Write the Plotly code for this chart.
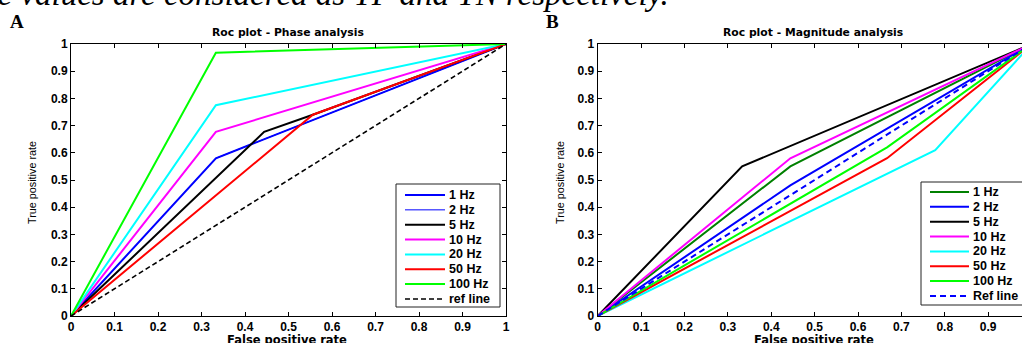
import plotly.graph_objects as go

W, H = 1022, 343

# ---------------- data ----------------
labels_phase = ["1 Hz", "2 Hz", "5 Hz", "10 Hz", "20 Hz", "50 Hz", "100 Hz", "ref line"]
fpr_phase = [
    [0, 0.333, 1],
    [0, 0.333, 1],
    [0, 0.444, 0.556, 1],
    [0, 0.333, 1],
    [0, 0.333, 1],
    [0, 0.556, 1],
    [0, 0.333, 1],
    [0, 1],
]
tpr_phase = [
    [0, 0.58, 1],
    [0, 0.58, 1],
    [0, 0.677, 0.74, 1],
    [0, 0.677, 1],
    [0, 0.775, 1],
    [0, 0.74, 1],
    [0, 0.968, 1],
    [0, 1],
]

labels_mag = ["1 Hz", "2 Hz", "5 Hz", "10 Hz", "20 Hz", "50 Hz", "100 Hz", "Ref line"]
fpr_mag = [
    [0, 0.444, 1],
    [0, 0.444, 1],
    [0, 0.333, 1],
    [0, 0.444, 1],
    [0, 0.778, 1],
    [0, 0.667, 1],
    [0, 0.667, 1],
    [0, 1],
]
tpr_mag = [
    [0, 0.55, 1],
    [0, 0.48, 1],
    [0, 0.55, 1],
    [0, 0.58, 1],
    [0, 0.61, 1],
    [0, 0.58, 1],
    [0, 0.62, 1],
    [0, 1],
]

tick_vals = [0, 0.1, 0.2, 0.3, 0.4, 0.5, 0.6, 0.7, 0.8, 0.9, 1]
tick_text = ["0", "0.1", "0.2", "0.3", "0.4", "0.5", "0.6", "0.7", "0.8", "0.9", "1"]

title_a = "Roc plot - Phase analysis"
title_b = "Roc plot - Magnitude analysis"
x_title = "False positive rate"
y_title = "True positive rate"
top_text = "he values are considered as TP and TN respectively."

# ---------------- styles ----------------
phase_colors = ["#0000FF", "#0000FF", "#000000", "#FF00FF", "#00FFFF", "#FF0000", "#00FF00", "#000000"]
phase_widths = [2, 1, 2, 2, 2, 2, 2, 1.6]
phase_dash = ["solid"] * 7 + ["5px,3px"]
mag_colors = ["#008000", "#0000FF", "#000000", "#FF00FF", "#00FFFF", "#FF0000", "#00FF00", "#0000FF"]
mag_widths = [2, 2, 2, 2, 2, 2, 2, 2]
mag_dash = ["solid"] * 7 + ["6px,4px"]

SANS = "Liberation Sans, Arial, sans-serif"
WIDE = "DejaVu Sans, Verdana, sans-serif"
SERIF = "Liberation Serif, Times New Roman, serif"


def px(x):
    return x / W


def py(y):
    return 1 - y / H


fig = go.Figure()

for xs, ys, name, c, w, d in zip(fpr_phase, tpr_phase, labels_phase, phase_colors, phase_widths, phase_dash):
    fig.add_trace(go.Scatter(x=xs, y=ys, mode="lines", name=name, xaxis="x", yaxis="y",
                             line=dict(color=c, width=w, dash=d), showlegend=False))
for xs, ys, name, c, w, d in zip(fpr_mag, tpr_mag, labels_mag, mag_colors, mag_widths, mag_dash):
    fig.add_trace(go.Scatter(x=xs, y=ys, mode="lines", name=name, xaxis="x2", yaxis="y2",
                             line=dict(color=c, width=w, dash=d), showlegend=False))

tickfont = dict(family=SANS, size=12, color="black", weight="bold")
common = dict(tickvals=tick_vals, ticktext=tick_text, ticks="inside", ticklen=4, tickcolor="black",
              showline=True, linecolor="black", linewidth=1, showgrid=False, zeroline=False,
              tickfont=tickfont, automargin=False)

fig.update_layout(
    template="none",
    width=W, height=H,
    margin=dict(l=0, r=0, t=0, b=0, pad=0),
    paper_bgcolor="white", plot_bgcolor="white",
    showlegend=False,
    xaxis=dict(domain=[px(71), px(506)], range=[0, 1], anchor="y", mirror="ticks", **common),
    yaxis=dict(domain=[py(316), py(44)], range=[0, 1], anchor="x", mirror="ticks", **common),
    xaxis2=dict(domain=[px(597.7), 1.0], range=[0, 0.978], anchor="y2", mirror="ticks", **common),
    yaxis2=dict(domain=[py(316), py(44)], range=[0, 1], anchor="x2", mirror=False, **common),
)

shapes = []
annotations = []


def legend(x0, y0, x1, y1, sx0, sx1, tx, iy0, step, labels, colors, widths, dashes):
    shapes.append(dict(type="rect", xref="paper", yref="paper", x0=px(x0), x1=px(x1), y0=py(y1), y1=py(y0),
                       line=dict(color="#222222", width=1), fillcolor="white", layer="above"))
    for i, (lab, c, w, d) in enumerate(zip(labels, colors, widths, dashes)):
        yy = iy0 + i * step
        shapes.append(dict(type="line", xref="paper", yref="paper", x0=px(sx0), x1=px(sx1), y0=py(yy), y1=py(yy),
                           line=dict(color=c, width=w, dash=d), layer="above"))
        annotations.append(dict(text=lab, xref="paper", yref="paper", x=px(tx), y=py(yy), xanchor="left",
                                yanchor="middle", showarrow=False,
                                font=dict(family=SANS, size=12.5, color="black", weight="bold")))


legend(396, 184, 500, 307, 405, 445, 447, 195, 14.85, labels_phase, phase_colors, phase_widths, phase_dash)
legend(921, 182, 1040, 305, 930, 969, 971, 192, 14.85, labels_mag, mag_colors, mag_widths, mag_dash)

# titles
for txt, cx in [(title_a, 288), (title_b, 813)]:
    annotations.append(dict(text=txt, xref="paper", yref="paper", x=px(cx), y=py(32), xanchor="center",
                            yanchor="middle", showarrow=False,
                            font=dict(family=WIDE, size=10.8, color="black", weight="bold")))
# axis titles
for cx in [287, 814]:
    annotations.append(dict(text=x_title, xref="paper", yref="paper", x=px(cx), y=py(339.5), xanchor="center",
                            yanchor="middle", showarrow=False,
                            font=dict(family=WIDE, size=11.5, color="black", weight="bold")))
for cx in [32, 560]:
    annotations.append(dict(text=y_title, xref="paper", yref="paper", x=px(cx), y=py(183), xanchor="center",
                            yanchor="middle", showarrow=False, textangle=-90,
                            font=dict(family=SANS, size=10.8, color="black")))
# panel letters
for txt, cx in [("A", 17), ("B", 552)]:
    annotations.append(dict(text=txt, xref="paper", yref="paper", x=px(cx), y=py(22), xanchor="center",
                            yanchor="middle", showarrow=False,
                            font=dict(family=SERIF, size=19, color="black", weight="bold")))
# clipped sentence at top
annotations.append(dict(text=top_text, xref="paper", yref="paper", x=px(671), y=py(-5.5), xanchor="right",
                        yanchor="middle", showarrow=False,
                        font=dict(family=SERIF, size=33, color="black", style="italic")))

fig.update_layout(shapes=shapes, annotations=annotations)
fig.write_html("out.html", config={"displayModeBar": False},
               post_script="document.body.style.margin='0';document.body.style.overflow='hidden';")
